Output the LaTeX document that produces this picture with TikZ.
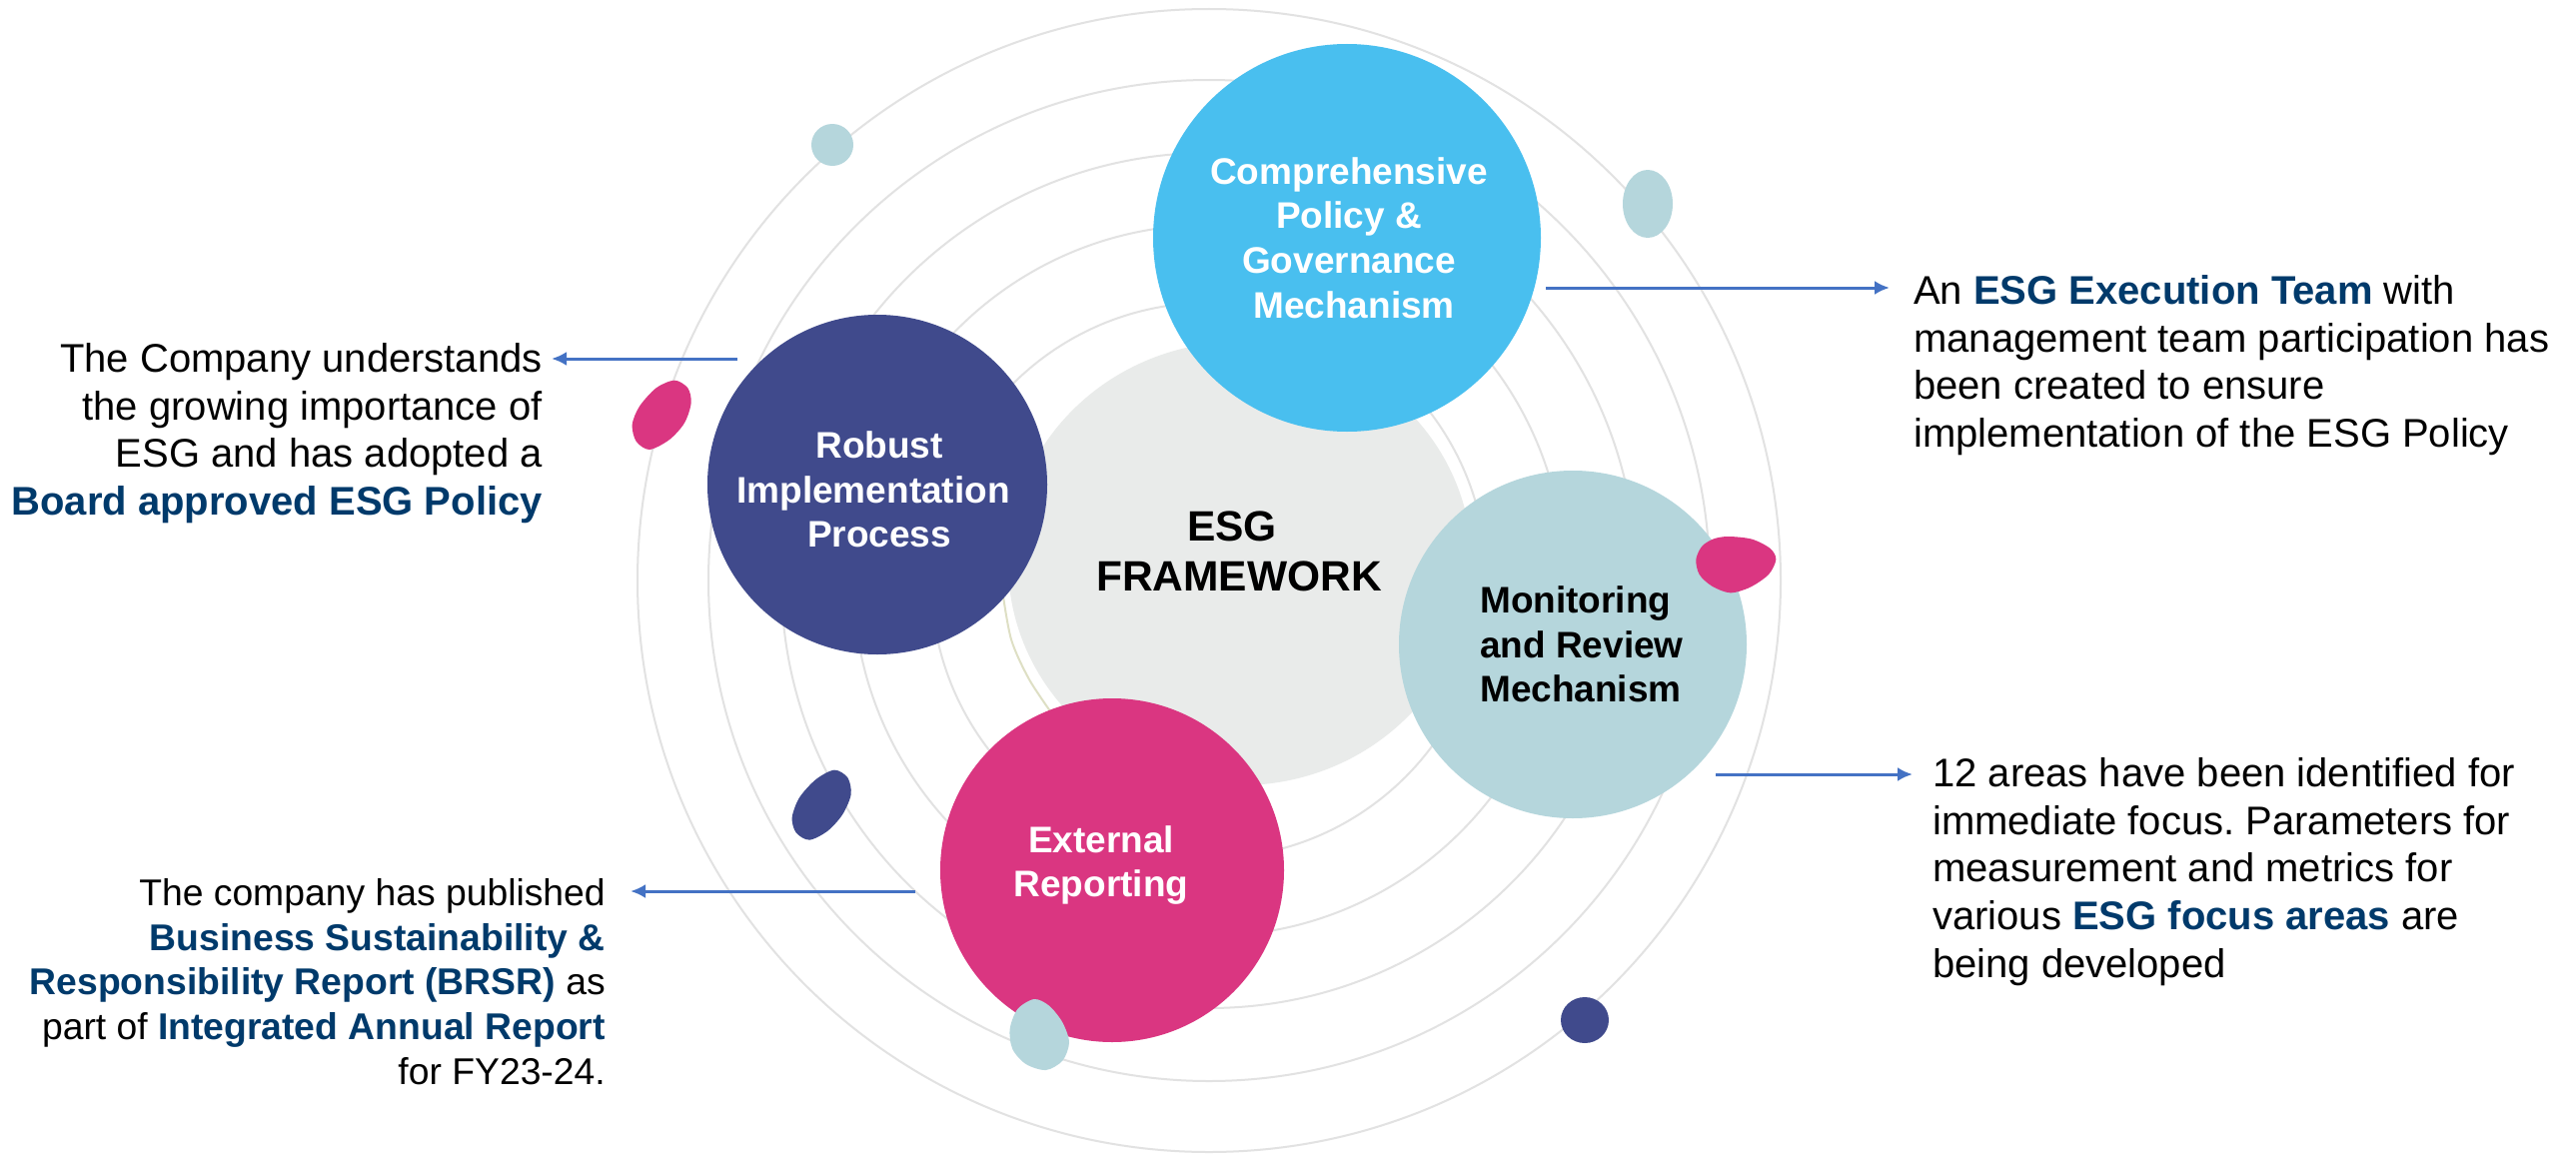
\documentclass[tikz,border=0pt]{standalone}
\usepackage{fontspec}
\setmainfont{Liberation Sans}
\usetikzlibrary{arrows.meta,calc}
\definecolor{skyc}{HTML}{49BFEF}
\definecolor{navyc}{HTML}{404A8C}
\definecolor{tealc}{HTML}{B5D6DC}
\definecolor{pinkc}{HTML}{DA3681}
\definecolor{discc}{HTML}{E9EBEA}
\definecolor{ringc}{HTML}{E2E2E2}
\definecolor{arrowc}{HTML}{4472C4}
\definecolor{deepc}{HTML}{003A6B}
\definecolor{olivec}{HTML}{DEDFC4}
\newcommand{\hl}[1]{\textcolor{deepc}{\textbf{#1}}}
\frenchspacing
\tikzset{
  ring/.style={draw=ringc,line width=2pt,fill=none},
  bubble/.style={circle,inner sep=0pt,draw=none},
  bubbletext/.style={inner sep=0pt,align=center,font=\fontsize{37}{44.7}\selectfont\bfseries},
  note/.style={inner sep=0pt,font=\fontsize{40}{47.9}\selectfont},
  link/.style={draw=arrowc,line width=3pt,-{Latex[length=15pt,width=14pt]}}
}
\begin{document}
\begin{tikzpicture}[x=1pt,y=-1pt]
\useasboundingbox (0,0) rectangle (2578,1156);
\fill[white] (0,0) rectangle (2578,1156);
% orbit rings
\foreach \r in {572,501,428,356,278}{
  \draw[ring] (1210,581) circle[radius=\r];
}
% centre disc
\draw[olivec,line width=2pt] plot[smooth] coordinates {(1003,590) (1012,640) (1030,680) (1054,716)};
\fill[discc] (1241,564) ellipse[x radius=232,y radius=222];
% large bubbles
\node[bubble,fill=skyc,minimum size=388pt] (comp) at (1348,238) {};
\node[bubble,fill=navyc,minimum size=340pt] (robust) at (878,485) {};
\node[bubble,fill=tealc,minimum size=348pt] (monit) at (1574,645) {};
\node[bubble,fill=pinkc,minimum size=344pt] (ext) at (1113,871) {};
% small blobs
\begin{scope}[shift={(620,370)},x=0.3333pt,y=-0.3333pt]
\fill[pinkc] plot[smooth cycle] coordinates {(165,32)(205,55)(215,100)(195,160)(150,210)(90,240)(50,215)(38,165)(60,110)(110,55)};
\end{scope}
\begin{scope}[shift={(1690,525)},x=0.3333pt,y=-0.3333pt]
\fill[pinkc] plot[smooth cycle] coordinates {(120,36)(190,44)(245,72)(262,105)(240,150)(185,188)(125,205)(70,185)(32,150)(22,105)(40,65)(75,43)};
\end{scope}
\begin{scope}[shift={(780,760)},x=0.3333pt,y=-0.3333pt]
\fill[navyc] plot[smooth cycle] coordinates {(165,32)(205,55)(215,105)(190,165)(145,215)(90,242)(50,220)(38,175)(60,115)(110,60)};
\end{scope}
\begin{scope}[shift={(1000,990)},x=0.3333pt,y=-0.3333pt]
\fill[tealc] plot[smooth cycle] coordinates {(105,30)(150,50)(190,100)(210,160)(190,215)(140,243)(80,225)(40,180)(32,120)(55,60)};
\end{scope}
\fill[tealc] (833,145) ellipse[x radius=21,y radius=21];
\fill[tealc] (1649,204) ellipse[x radius=25,y radius=34];
\fill[navyc] (1586,1021) ellipse[x radius=24,y radius=23];
% bubble labels
\node[bubbletext,text=white] (compT) at (1350,238) {Comprehensive\\Policy \&\\Governance\\Mechanism\kern-10pt};
\node[bubbletext,text=white] (robustT) at (874,490) {Robust\kern-12pt\\Implementation\\Process\kern-12pt};
\node[bubbletext,text=black,align=left,anchor=west] (monitT) at (1481,645) {Monitoring\\and Review\\Mechanism};
\node[bubbletext,text=white] (extT) at (1102,866) {External\\Reporting};
\node[inner sep=0pt,align=center,font=\fontsize{42.5}{50.5}\selectfont\bfseries] (core) at (1240,552) {ESG\kern14pt\\FRAMEWORK};
% notes
\node[note,align=right,anchor=north east] (noteA) at (543,343) {The Company understands\\the growing importance of\\ESG and has adopted a\\\hl{Board approved ESG Policy}};
\node[note,align=right,anchor=north east,font=\fontsize{37.3}{44.8}\selectfont] (noteB) at (606,879) {The company has published\\\hl{Business Sustainability \&}\\\hl{Responsibility Report (BRSR)} as\\part of \hl{Integrated Annual Report}\\for FY23-24.};
\node[note,align=left,anchor=north west] (noteC) at (1915,275) {An \hl{ESG Execution Team} with\\management team participation has\\been created to ensure\\implementation of the ESG Policy};
\node[note,align=left,anchor=north west] (noteD) at (1934,758) {12 areas have been identified for\\immediate focus. Parameters for\\measurement and metrics for\\various \hl{ESG focus areas} are\\being developed};
% connectors
\coordinate (s1) at ($(comp.center)+(199,50)$);
\coordinate (e1) at ($(noteC.north west)+(-24,13)$);
\coordinate (s2) at ($(monit.center)+(143,130)$);
\coordinate (e2) at ($(noteD.north west)+(-20,17)$);
\coordinate (s3) at ($(robust.center)+(-140,-126)$);
\coordinate (e3) at ($(noteA.north east)+(9,16)$);
\coordinate (s4) at ($(ext.center)+(-197,21)$);
\coordinate (e4) at ($(noteB.north east)+(25,13)$);
\draw[link] (s1) -- (e1);
\draw[link] (s2) -- (e2);
\draw[link] (s3) -- (e3);
\draw[link] (s4) -- (e4);
\end{tikzpicture}
\end{document}
